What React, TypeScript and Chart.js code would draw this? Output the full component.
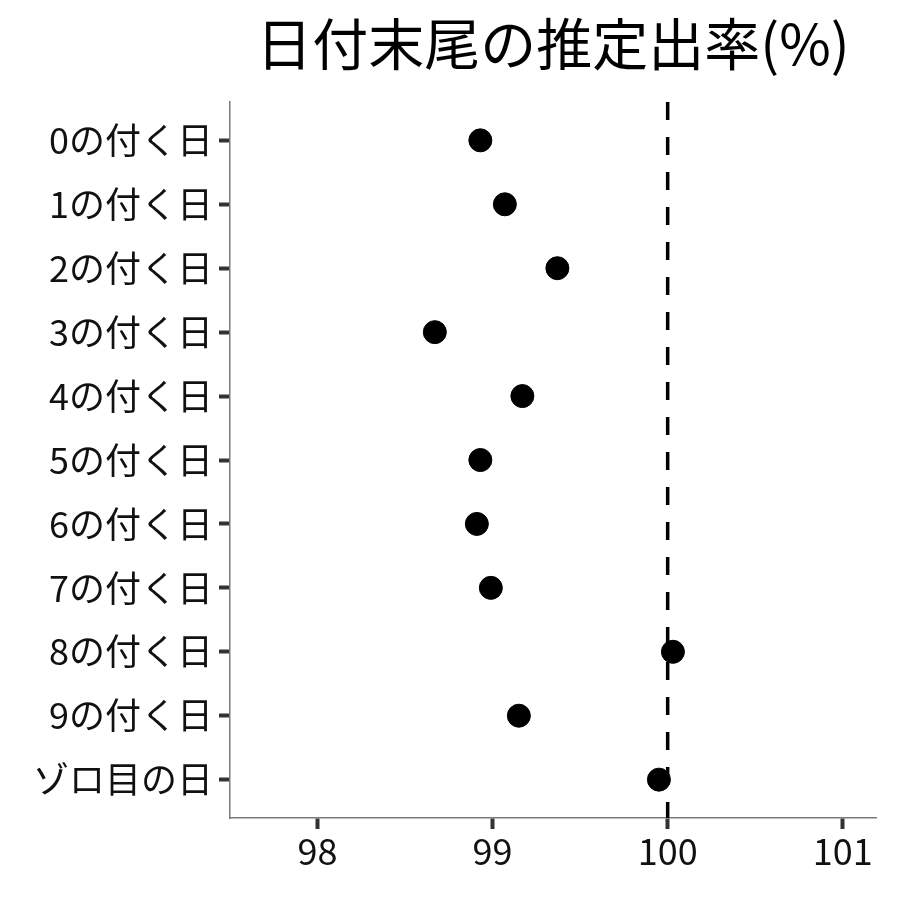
import React, { useEffect, useRef } from "react";
import { Chart, registerables } from "chart.js";

Chart.register(...registerables);

const TITLE = "日付末尾の推定出率(%)";
const CATEGORIES = [
  "0の付く日",
  "1の付く日",
  "2の付く日",
  "3の付く日",
  "4の付く日",
  "5の付く日",
  "6の付く日",
  "7の付く日",
  "8の付く日",
  "9の付く日",
  "ゾロ目の日",
];
const RATES = [98.93, 99.07, 99.37, 98.67, 99.17, 98.93, 98.91, 98.99, 100.03, 99.15, 99.95];
const X_TICKS = [98, 99, 100, 101];
const REF_VALUE = 100;
const X_MIN = 97.5;
const X_MAX = 101.19;

const FONT = "'Noto Sans CJK JP', 'Noto Sans', sans-serif";

export default function App() {
  const ref = useRef<HTMLCanvasElement | null>(null);

  useEffect(() => {
    document.body.style.margin = "0";
    const canvas = ref.current;
    if (!canvas) return;

    const titlePlugin = {
      id: "centeredTitle",
      afterDraw(chart: any) {
        const { ctx, chartArea } = chart;
        ctx.save();
        ctx.font = `56px ${FONT}`;
        ctx.fillStyle = "#000";
        ctx.textAlign = "center";
        ctx.textBaseline = "middle";
        ctx.fillText(TITLE, (chartArea.left + chartArea.right) / 2, 44);
        ctx.restore();
      },
    };

    const n = CATEGORIES.length;
    const chart = new Chart(canvas, {
      type: "scatter",
      data: {
        datasets: [
          {
            label: "rate",
            data: RATES.map((v, i) => ({ x: v, y: i })),
            backgroundColor: "#000",
            borderColor: "#000",
            pointRadius: 11.5,
            pointHoverRadius: 11.5,
            order: 0,
          },
          {
            type: "line",
            label: "ref",
            data: [
              { x: REF_VALUE, y: -0.6 },
              { x: REF_VALUE, y: n - 1 + 0.6 },
            ],
            borderColor: "#000",
            borderWidth: 3.5,
            borderDash: [18, 17],
            pointRadius: 0,
            showLine: true,
            order: 1,
          } as any,
        ],
      },
      options: {
        animation: false,
        responsive: false,
        maintainAspectRatio: false,
        layout: { padding: { top: 102, right: 24, left: 0, bottom: 0 } },
        plugins: {
          legend: { display: false },
          tooltip: { enabled: false },
          title: { display: false },
        },
        scales: {
          x: {
            type: "linear",
            min: X_MIN,
            max: X_MAX,
            afterBuildTicks: (scale: any) => {
              scale.ticks = X_TICKS.map((v) => ({ value: v }));
            },
            afterFit: (scale: any) => {
              scale.height = 82;
            },
            ticks: {
              font: { family: FONT, size: 36 },
              color: "#111",
              padding: 1,
              maxRotation: 0,
              autoSkip: false,
            },
            grid: {
              display: true,
              drawOnChartArea: false,
              drawTicks: true,
              tickLength: 11,
              tickColor: "#333",
              tickWidth: 4,
            },
            border: { display: true, color: "#7a7a7a", width: 1.5 },
          },
          y: {
            type: "linear",
            min: -0.6,
            max: n - 1 + 0.6,
            reverse: true,
            afterBuildTicks: (scale: any) => {
              scale.ticks = CATEGORIES.map((_, i) => ({ value: i }));
            },
            afterFit: (scale: any) => {
              scale.width = 230;
            },
            ticks: {
              font: { family: FONT, size: 36 },
              color: "#111",
              padding: 6,
              autoSkip: false,
              callback: (v: any) => CATEGORIES[v] ?? "",
            },
            grid: {
              display: true,
              drawOnChartArea: false,
              drawTicks: true,
              tickLength: 11,
              tickColor: "#333",
              tickWidth: 4,
            },
            border: { display: true, color: "#7a7a7a", width: 1.5 },
          },
        },
      },
      plugins: [titlePlugin],
    });

    return () => chart.destroy();
  }, []);

  return (
    <div style={{ width: 900, height: 900, background: "#fff" }}>
      <canvas ref={ref} width={900} height={900} style={{ width: 900, height: 900, display: "block" }} />
    </div>
  );
}
